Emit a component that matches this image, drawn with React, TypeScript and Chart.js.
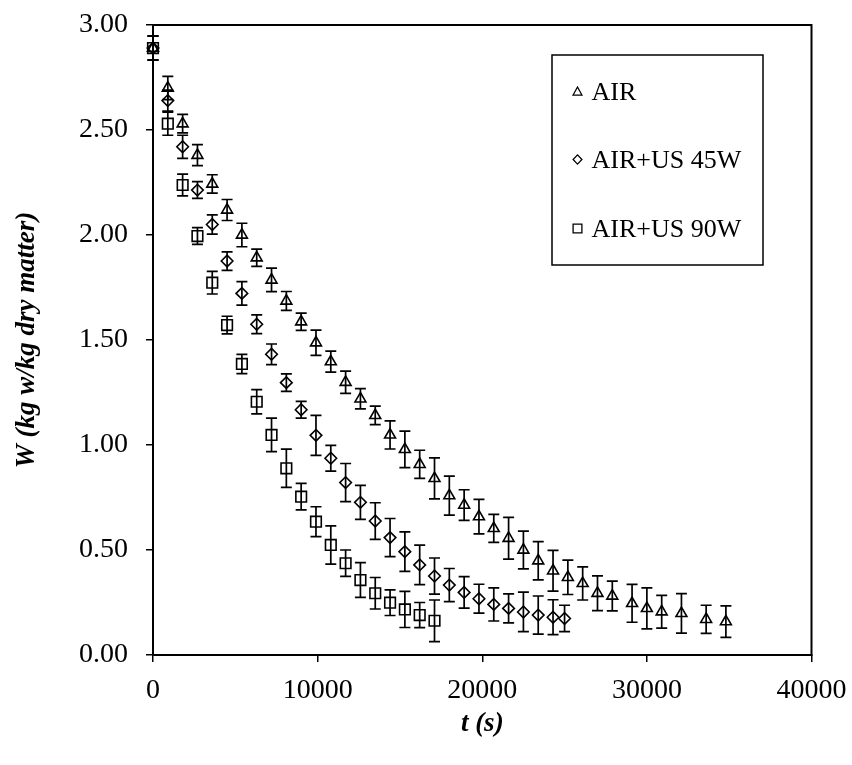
import React, { useEffect, useRef } from 'react';
import { Chart, registerables } from 'chart.js';

Chart.register(...registerables);

// ---- data ----
const seriesLabels = ['AIR', 'AIR+US 45W', 'AIR+US 90W'];

const airTime = [0, 900, 1800, 2700, 3600, 4500, 5400, 6300, 7200, 8100, 9000, 9900, 10800, 11700, 12600, 13500, 14400, 15300, 16200, 17100, 18000, 18900, 19800, 20700, 21600, 22500, 23400, 24300, 25200, 26100, 27000, 27900, 29100, 30000, 30900, 32100, 33600, 34800];
const airW = [2.89, 2.70, 2.53, 2.38, 2.243, 2.119, 2.00, 1.892, 1.786, 1.686, 1.587, 1.487, 1.397, 1.299, 1.22, 1.141, 1.048, 0.979, 0.908, 0.841, 0.759, 0.714, 0.659, 0.603, 0.556, 0.50, 0.449, 0.401, 0.370, 0.341, 0.294, 0.281, 0.246, 0.222, 0.206, 0.198, 0.170, 0.159];
const airErr = [0.057, 0.055, 0.044, 0.05, 0.044, 0.05, 0.056, 0.041, 0.056, 0.045, 0.041, 0.06, 0.05, 0.053, 0.048, 0.044, 0.067, 0.087, 0.067, 0.098, 0.093, 0.073, 0.082, 0.067, 0.099, 0.09, 0.091, 0.097, 0.082, 0.079, 0.083, 0.071, 0.09, 0.098, 0.078, 0.094, 0.067, 0.075];

const us45Time = [0, 900, 1800, 2700, 3600, 4500, 5400, 6300, 7200, 8100, 9000, 9900, 10800, 11700, 12600, 13500, 14400, 15300, 16200, 17100, 18000, 18900, 19800, 20700, 21600, 22500, 23400, 24300, 25000];
const us45W = [2.89, 2.64, 2.42, 2.214, 2.05, 1.876, 1.722, 1.575, 1.432, 1.297, 1.168, 1.046, 0.937, 0.821, 0.727, 0.638, 0.559, 0.492, 0.429, 0.376, 0.333, 0.298, 0.268, 0.241, 0.222, 0.205, 0.19, 0.18, 0.174];
const us45Err = [0.057, 0.05, 0.055, 0.04, 0.046, 0.044, 0.056, 0.045, 0.049, 0.042, 0.04, 0.095, 0.061, 0.091, 0.081, 0.087, 0.091, 0.094, 0.094, 0.086, 0.079, 0.075, 0.069, 0.079, 0.069, 0.094, 0.091, 0.083, 0.063];

const us90Time = [0, 900, 1800, 2700, 3600, 4500, 5400, 6300, 7200, 8100, 9000, 9900, 10800, 11700, 12600, 13500, 14400, 15300, 16200, 17100];
const us90W = [2.89, 2.53, 2.238, 1.995, 1.773, 1.571, 1.386, 1.206, 1.048, 0.889, 0.754, 0.635, 0.524, 0.437, 0.357, 0.294, 0.249, 0.217, 0.19, 0.163];
const us90Err = [0.057, 0.055, 0.052, 0.04, 0.054, 0.042, 0.046, 0.058, 0.08, 0.091, 0.063, 0.071, 0.091, 0.063, 0.083, 0.075, 0.061, 0.086, 0.06, 0.099];

const xTickLabels = ['0', '10000', '20000', '30000', '40000'];
const yTickLabels = ['0.00', '0.50', '1.00', '1.50', '2.00', '2.50', '3.00'];

const xTitle = 't (s)';
const yTitle = 'W (kg w/kg dry matter)';

// ---- styling ----
const FONT = "'Liberation Serif', 'Times New Roman', serif";

function toPoints(t: number[], w: number[]) {
  return t.map((x, i) => ({ x, y: w[i] }));
}

function drawMarker(ctx: CanvasRenderingContext2D, style: string, x: number, y: number, r: number) {
  ctx.beginPath();
  if (style === 'triangle') {
    const hw = r * 0.8;
    const h = r * 1.45;
    ctx.moveTo(x, y - h * 0.62);
    ctx.lineTo(x + hw, y + h * 0.38);
    ctx.lineTo(x - hw, y + h * 0.38);
    ctx.closePath();
  } else if (style === 'rectRot') {
    ctx.moveTo(x, y - r * 0.85);
    ctx.lineTo(x + r * 0.8, y);
    ctx.lineTo(x, y + r * 0.85);
    ctx.lineTo(x - r * 0.8, y);
    ctx.closePath();
  } else {
    ctx.rect(x - r * 0.8, y - r * 0.8, r * 1.6, r * 1.6);
  }
  ctx.stroke();
}

const errorBarPlugin = {
  id: 'errorBars',
  beforeDatasetsDraw(chart: any) {
    const ctx = chart.ctx as CanvasRenderingContext2D;
    const ys = chart.scales.y;
    const cap = 5.5;
    ctx.save();
    ctx.strokeStyle = '#000';
    ctx.lineWidth = 1.7;
    chart.data.datasets.forEach((ds: any, i: number) => {
      const meta = chart.getDatasetMeta(i);
      meta.data.forEach((pt: any, j: number) => {
        const v = ds.data[j].y;
        const e = ds.errors[j];
        const x = pt.x;
        const yt = ys.getPixelForValue(v + e);
        const yb = ys.getPixelForValue(v - e);
        ctx.beginPath();
        ctx.moveTo(x, yt);
        ctx.lineTo(x, yb);
        ctx.moveTo(x - cap, yt);
        ctx.lineTo(x + cap, yt);
        ctx.moveTo(x - cap, yb);
        ctx.lineTo(x + cap, yb);
        ctx.stroke();
      });
    });
    ctx.restore();
  },
};

const framePlugin = {
  id: 'frame',
  afterDraw(chart: any) {
    const { ctx, chartArea } = chart;
    ctx.save();
    ctx.strokeStyle = '#000';
    ctx.lineWidth = 2;
    ctx.strokeRect(chartArea.left, chartArea.top, chartArea.right - chartArea.left, chartArea.bottom - chartArea.top);
    ctx.restore();
  },
};

const legendPlugin = {
  id: 'boxLegend',
  afterDraw(chart: any) {
    const ctx = chart.ctx as CanvasRenderingContext2D;
    const area = chart.chartArea;
    const bx = area.left + 399;
    const by = area.top + 30;
    const bw = 211;
    const bh = 210;
    ctx.save();
    ctx.fillStyle = '#fff';
    ctx.fillRect(bx, by, bw, bh);
    ctx.strokeStyle = '#000';
    ctx.lineWidth = 1.5;
    ctx.strokeRect(bx, by, bw, bh);
    const rowY = [37.5, 105, 174];
    chart.data.datasets.forEach((ds: any, i: number) => {
      const cy = by + rowY[i];
      ctx.strokeStyle = '#000';
      ctx.lineWidth = 1.3;
      drawMarker(ctx, ds.pointStyle, bx + 25.5, cy - 0.5, 5.5);
      ctx.fillStyle = '#000';
      ctx.font = `26px ${FONT}`;
      ctx.textBaseline = 'middle';
      ctx.textAlign = 'left';
      ctx.fillText(ds.label, bx + 39.5, cy + 1);
    });
    ctx.restore();
  },
};

export default function App() {
  const ref = useRef<HTMLCanvasElement>(null);

  useEffect(() => {
    if (!ref.current) return;
    const common = {
      borderColor: '#000',
      backgroundColor: 'rgba(0,0,0,0)',
      pointBorderWidth: 1.6,
      showLine: false,
      clip: false as any,
    };
    const chart = new Chart(ref.current, {
      type: 'scatter',
      data: {
        datasets: [
          { ...common, label: seriesLabels[0], data: toPoints(airTime, airW), errors: airErr, pointStyle: 'triangle', pointRadius: 6.3 } as any,
          { ...common, label: seriesLabels[1], data: toPoints(us45Time, us45W), errors: us45Err, pointStyle: 'rectRot', pointRadius: 5.8 } as any,
          { ...common, label: seriesLabels[2], data: toPoints(us90Time, us90W), errors: us90Err, pointStyle: 'rect', pointRadius: 7.5 } as any,
        ],
      },
      options: {
        responsive: false,
        animation: false,
        events: [],
        layout: { padding: { top: 25, right: 40.5, left: 0, bottom: 0 } },
        plugins: {
          legend: { display: false },
          tooltip: { enabled: false },
        },
        scales: {
          x: {
            type: 'linear',
            min: 0,
            max: 40000,
            ticks: {
              stepSize: 10000,
              autoSkip: false,
              maxRotation: 0,
              color: '#000',
              padding: 12,
              font: { family: FONT, size: 28 },
              callback: (_v: any, i: number) => xTickLabels[i],
            },
            grid: { drawOnChartArea: false, drawTicks: true, tickLength: 7, color: '#000', lineWidth: 1.5 },
            border: { display: true, color: '#000', width: 2 },
            title: {
              display: true,
              text: xTitle,
              color: '#000',
              font: { family: FONT, size: 27, weight: 'bold', style: 'italic' },
              padding: { top: 0, bottom: 25 },
            },
            afterFit: (s: any) => {
              s.height = 110;
              s.paddingLeft = 0;
              s.paddingRight = 0;
            },
          },
          y: {
            type: 'linear',
            min: 0,
            max: 3,
            ticks: {
              stepSize: 0.5,
              autoSkip: false,
              color: '#000',
              padding: 18,
              font: { family: FONT, size: 28 },
              callback: (_v: any, i: number) => yTickLabels[i],
            },
            grid: { drawOnChartArea: false, drawTicks: true, tickLength: 7, color: '#000', lineWidth: 1.5 },
            border: { display: true, color: '#000', width: 2 },
            title: {
              display: true,
              text: yTitle,
              color: '#000',
              font: { family: FONT, size: 27, weight: 'bold', style: 'italic' },
              padding: { top: 11, bottom: 0 },
            },
            afterFit: (s: any) => {
              s.width = 153;
              s.paddingTop = 0;
              s.paddingBottom = 0;
            },
          },
        },
      } as any,
      plugins: [errorBarPlugin, framePlugin, legendPlugin],
    });
    return () => chart.destroy();
  }, []);

  return (
    <div style={{ position: 'fixed', left: 0, top: 0, width: 852, height: 765, background: '#fff' }}>
      <canvas ref={ref} width={852} height={765} style={{ width: 852, height: 765, display: 'block' }} />
    </div>
  );
}
